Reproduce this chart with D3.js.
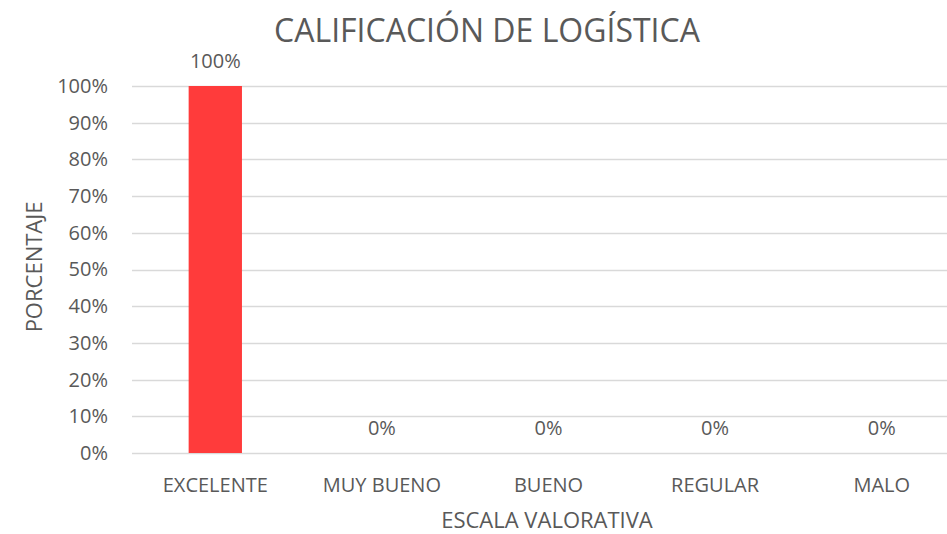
<!DOCTYPE html>
<html>
<head>
<meta charset="utf-8">
<script src="https://cdn.jsdelivr.net/npm/d3@7"></script>
<style>
  body { margin: 0; background: #fff; }
  text { font-family: "Open Sans", "Liberation Sans", sans-serif; fill: #595959; }
</style>
</head>
<body>
<div id="chart"></div>
<script>
var categories = ["EXCELENTE", "MUY BUENO", "BUENO", "REGULAR", "MALO"];
var values = [1.00, 0, 0, 0, 0];
var yTicks = [0, 0.1, 0.2, 0.3, 0.4, 0.5, 0.6, 0.7, 0.8, 0.9, 1.0];

function init() {
    var w = 947;
    var h = 534;

    var svg = d3.select("#chart")
                .append("svg")
                .attr("width", w)
                .attr("height", h);

    var xScale = d3.scaleBand()
                   .domain(categories)
                   .range([132, 965])
                   .paddingInner(0.68)
                   .paddingOuter(0.34);

    var yScale = d3.scaleLinear()
                   .domain([0, 1])
                   .range([453, 86]);

    var fmt = d3.format(".0%");

    // gridlines
    svg.append("g")
       .selectAll("line")
       .data(yTicks)
       .enter()
       .append("line")
       .attr("x1", 132)
       .attr("x2", 965)
       .attr("y1", function(d) { return Math.round(yScale(d)) + 0.5; })
       .attr("y2", function(d) { return Math.round(yScale(d)) + 0.5; })
       .attr("stroke", "#d9d9d9")
       .attr("stroke-width", 1.3);

    var yAxis = d3.axisLeft(yScale)
                  .tickValues(yTicks)
                  .tickFormat(fmt)
                  .tickSize(0)
                  .tickPadding(24);

    var gy = svg.append("g")
       .attr("transform", "translate(132,0)")
       .call(yAxis);
    gy.select(".domain").remove();
    gy.selectAll("text").style("font-size", "20px").attr("fill", "#595959");

    var xAxis = d3.axisBottom(xScale)
                  .tickSize(0);

    var gx = svg.append("g")
       .attr("transform", "translate(0,453)")
       .call(xAxis);
    gx.select(".domain").remove();
    gx.selectAll("text")
      .attr("y", 39)
      .attr("dy", 0)
      .style("font-size", "20px")
      .attr("fill", "#595959");

    svg.selectAll("rect.bar")
       .data(values)
       .enter()
       .append("rect")
       .attr("class", "bar")
       .attr("x", function(d, i) { return xScale(categories[i]); })
       .attr("y", function(d) { return yScale(d); })
       .attr("width", xScale.bandwidth())
       .attr("height", function(d) { return yScale(0) - yScale(d); })
       .attr("fill", "#ff3b3b");

    svg.selectAll("text.lbl")
       .data(values)
       .enter()
       .append("text")
       .attr("class", "lbl")
       .attr("x", function(d, i) { return xScale(categories[i]) + xScale.bandwidth() / 2; })
       .attr("y", function(d) { return yScale(d) - 18; })
       .attr("text-anchor", "middle")
       .style("font-size", "20px")
       .text(function(d) { return fmt(d); });

    svg.append("text")
       .attr("x", 487)
       .attr("y", 42)
       .attr("text-anchor", "middle")
       .style("font-size", "32px")
       .text("CALIFICACIÓN DE LOGÍSTICA");

    svg.append("text")
       .attr("transform", "translate(42,267) rotate(-90)")
       .attr("text-anchor", "middle")
       .style("font-size", "22px")
       .text("PORCENTAJE");

    svg.append("text")
       .attr("x", 547)
       .attr("y", 528)
       .attr("text-anchor", "middle")
       .style("font-size", "22px")
       .text("ESCALA VALORATIVA");
}

window.onload = init;
</script>
</body>
</html>
